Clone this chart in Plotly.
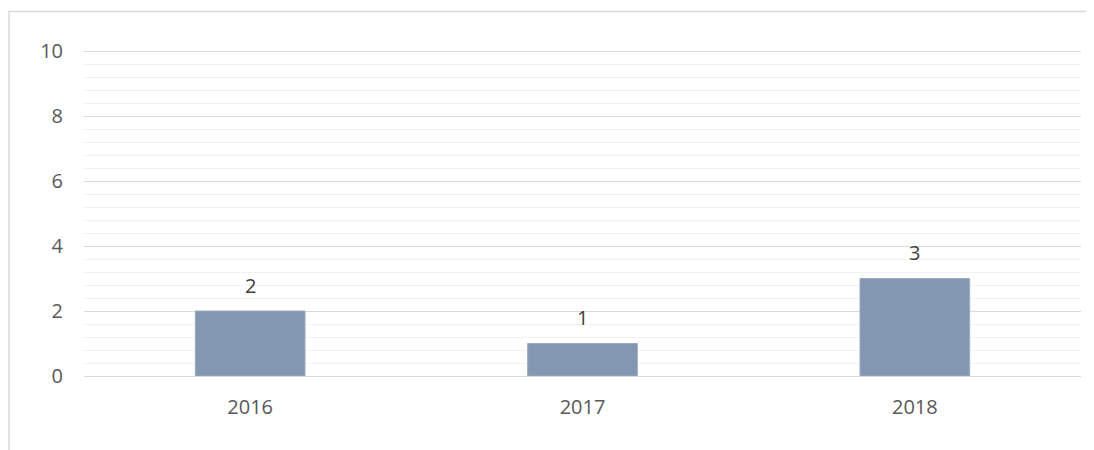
import plotly.graph_objects as go

categories = ["2016", "2017", "2018"]
values = [2, 1, 3]
y_ticks = [0, 2, 4, 6, 8, 10]

FONT = "Open Sans"
TXT = "#595959"

fig = go.Figure(go.Bar(
    x=categories, y=values,
    width=0.33,
    marker=dict(color="#8497B0", line=dict(color="#9AAAC0", width=1)),
))

for i, v in enumerate(values):
    fig.add_annotation(x=i, y=v, text=str(v), showarrow=False, yanchor="middle", yshift=26,
                       font=dict(family=FONT, size=20, color="#404040"))

# page has an 8px body margin; margins compensate so the plot area matches the reference
fig.update_layout(
    width=1094, height=450,
    margin=dict(l=76, r=21, t=42, b=82),
    paper_bgcolor="white", plot_bgcolor="white",
    showlegend=False,
    font=dict(family=FONT, size=20, color=TXT),
    xaxis=dict(type="category", range=[-0.5, len(categories) - 0.5], showgrid=False, showline=False,
               ticks="", tickfont=dict(size=20, color=TXT), ticklabelstandoff=17),
    yaxis=dict(range=[0, 10.04], tickvals=y_ticks, showgrid=True, gridcolor="#D9D9D9", gridwidth=1,
               zeroline=True, zerolinecolor="#D9D9D9", zerolinewidth=1,
               minor=dict(dtick=0.4, showgrid=True, gridcolor="#F2F2F2", gridwidth=1),
               ticks="", tickfont=dict(size=20, color=TXT), ticklabelstandoff=20),
    shapes=[dict(type="rect", xref="paper", yref="paper", x0=-0.0752, x1=1.05, y0=-0.4, y1=1.118,
                 line=dict(color="#D9D9D9", width=1.5), fillcolor="rgba(0,0,0,0)", layer="below")],
)

fig.write_html("out.html")
